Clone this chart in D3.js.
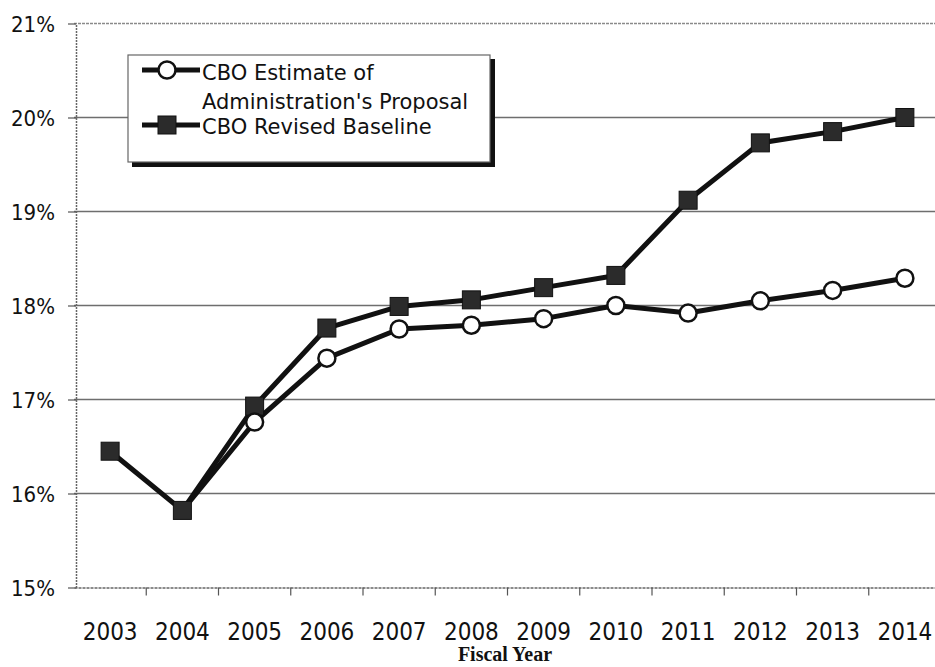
<!DOCTYPE html>
<html>
<head>
<meta charset="utf-8">
<script src="https://cdn.jsdelivr.net/npm/d3@7"></script>
<style>
  html, body { margin: 0; padding: 0; background: #fff; }
  svg { display: block; }
</style>
</head>
<body>
<svg id="chart" width="935" height="667"></svg>
<script>
// Fiscal years on the horizontal axis
const years = ["2003","2004","2005","2006","2007","2008","2009","2010","2011","2012","2013","2014"];
// Percent values for each series (null where no estimate is shown)
const proposal = [null, 15.82, 16.76, 17.44, 17.75, 17.79, 17.86, 18.00, 17.92, 18.05, 18.16, 18.29];
const baseline = [16.45, 15.82, 16.93, 17.76, 17.99, 18.06, 18.19, 18.32, 19.12, 19.73, 19.85, 20.00];
// Y-axis ticks (percent)
const yTicks = [15, 16, 17, 18, 19, 20, 21];

const svg = d3.select("#chart");
const plotLeft = 74, plotTop = 23.5, step = 72.25;
const plotBottom = 587.5;

const x = d3.scaleBand().domain(years).range([plotLeft, plotLeft + step * years.length]).padding(0);
const y = d3.scaleLinear().domain([15, 21]).range([plotBottom, plotTop]);

const fontCond = "'DejaVu Sans Condensed', 'DejaVu Sans', Verdana, sans-serif";
const fontMain = "'DejaVu Sans', Verdana, sans-serif";

// horizontal gridlines
svg.append("g").selectAll("line").data(yTicks.filter(d => d > 15)).join("line")
  .attr("x1", plotLeft).attr("x2", 935)
  .attr("y1", d => y(d)).attr("y2", d => y(d))
  .attr("stroke", d => d === 21 ? "#8a8a8a" : "#6e6e6e")
  .attr("stroke-width", 1.4)
  .attr("stroke-dasharray", d => d === 21 ? "3,1" : null);

// y axis
const yAxis = svg.append("g").attr("transform", `translate(${plotLeft + 2},0)`)
  .call(d3.axisLeft(y).tickValues(yTicks).tickFormat(d => d + "%").tickSize(8).tickSizeOuter(0));
yAxis.select(".domain").attr("stroke", "#666").attr("stroke-width", 1.5).attr("stroke-dasharray", "2,1");
yAxis.selectAll(".tick line").attr("stroke", "#555").attr("stroke-width", 1.2);
yAxis.selectAll(".tick text").attr("font-family", fontCond).attr("font-stretch", "condensed")
  .attr("font-size", 22).attr("fill", "#111").attr("x", -21).attr("dy", "0.35em");

// x axis with ticks at category boundaries
const xAxis = svg.append("g").attr("transform", `translate(0,${plotBottom})`)
  .call(d3.axisBottom(x).tickSize(0).tickSizeOuter(0));
xAxis.select(".domain").attr("stroke", "#666").attr("stroke-width", 1.6).attr("stroke-dasharray", "3,1");
xAxis.selectAll(".tick text").attr("font-family", fontCond).attr("font-stretch", "condensed")
  .attr("font-size", 24).attr("fill", "#111").attr("dy", 0).attr("y", 52);
xAxis.selectAll(".boundary").data(years.slice(1)).join("line")
  .attr("class", "boundary")
  .attr("x1", d => x(d)).attr("x2", d => x(d))
  .attr("y1", 0).attr("y2", 8)
  .attr("stroke", "#555").attr("stroke-width", 1.2);

// axis title
svg.append("text").attr("x", 505).attr("y", 661).attr("text-anchor", "middle")
  .attr("font-family", "'Liberation Serif', 'Times New Roman', serif")
  .attr("font-weight", "bold").attr("font-size", 20).attr("fill", "#111")
  .text("Fiscal Year");

const cx = d => x(d) + x.bandwidth() / 2;

const line = d3.line()
  .defined(d => d.v != null)
  .x(d => cx(d.year)).y(d => y(d.v));

const baseData = years.map((yr, i) => ({ year: yr, v: baseline[i] }));
const propData = years.map((yr, i) => ({ year: yr, v: proposal[i] }));

// baseline series
svg.append("path").datum(baseData).attr("d", line)
  .attr("fill", "none").attr("stroke", "#111").attr("stroke-width", 5)
  .attr("stroke-linejoin", "round");
// proposal series
svg.append("path").datum(propData).attr("d", line)
  .attr("fill", "none").attr("stroke", "#111").attr("stroke-width", 5)
  .attr("stroke-linejoin", "round");

const sq = 18;
svg.append("g").selectAll("rect").data(baseData).join("rect")
  .attr("x", d => cx(d.year) - sq / 2).attr("y", d => y(d.v) - sq / 2)
  .attr("width", sq).attr("height", sq)
  .attr("fill", "#2b2b2b").attr("stroke", "#111").attr("stroke-width", 1);

svg.append("g").selectAll("circle").data(propData.filter(d => d.v != null && d.year !== "2004")).join("circle")
  .attr("cx", d => cx(d.year)).attr("cy", d => y(d.v)).attr("r", 8.5)
  .attr("fill", "#fff").attr("stroke", "#111").attr("stroke-width", 2.5);

// legend box with drop shadow on the right and bottom
const lg = svg.append("g");
lg.append("rect").attr("x", 132).attr("y", 59).attr("width", 363).attr("height", 108).attr("fill", "#111");
lg.append("rect").attr("x", 128).attr("y", 55).attr("width", 362).attr("height", 107)
  .attr("fill", "#fff").attr("stroke", "#666").attr("stroke-width", 1.2);

lg.append("line").attr("x1", 142).attr("x2", 200).attr("y1", 70).attr("y2", 70)
  .attr("stroke", "#111").attr("stroke-width", 5);
lg.append("circle").attr("cx", 167).attr("cy", 70).attr("r", 8.5)
  .attr("fill", "#fff").attr("stroke", "#111").attr("stroke-width", 2.5);
lg.append("line").attr("x1", 142).attr("x2", 200).attr("y1", 125).attr("y2", 125)
  .attr("stroke", "#111").attr("stroke-width", 5);
lg.append("rect").attr("x", 167 - sq / 2).attr("y", 125 - sq / 2).attr("width", sq).attr("height", sq)
  .attr("fill", "#2b2b2b").attr("stroke", "#111");

const legText = [
  { t: "CBO Estimate of", y: 80 },
  { t: "Administration's Proposal", y: 109 },
  { t: "CBO Revised Baseline", y: 134 }
];
lg.selectAll("text").data(legText).join("text")
  .attr("x", 202).attr("y", d => d.y)
  .attr("font-family", fontMain).attr("font-size", 21).attr("fill", "#111")
  .text(d => d.t);
</script>
</body>
</html>
